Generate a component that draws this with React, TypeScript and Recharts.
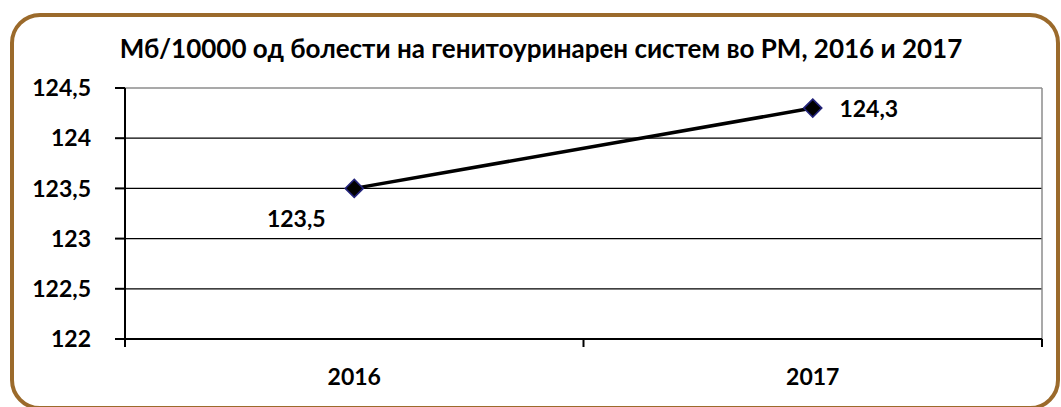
import { CartesianGrid, LabelList, Line, LineChart, ReferenceLine, XAxis, YAxis } from 'recharts'

const years = ['2016', '2017']
const rates = [123.5, 124.3]
const yTicks = [122, 122.5, 123, 123.5, 124, 124.5]
const xBounds = [0, 1, 2]
const labelShift = [{ dx: -58, dy: 30 }, { dx: 56, dy: 0 }]

const data = years.map((year, i) => ({ year, x: i + 0.5, value: rates[i] }))

const font = 'Lato, "DejaVu Sans", sans-serif'
const comma = (v: number) => String(v).replace('.', ',')

function Diamond(props: any) {
  const { cx, cy } = props
  if (cx == null || cy == null) return null
  const r = 9
  return <path d={`M${cx},${cy - r}L${cx + r},${cy}L${cx},${cy + r}L${cx - r},${cy}Z`} fill="#000" stroke="#23237a" strokeWidth={1.6} />
}

function PointLabel(props: any) {
  const { x, y, value, index } = props
  const s = labelShift[index] ?? { dx: 0, dy: 0 }
  return <text x={x + s.dx} y={y + s.dy} textAnchor="middle" dominantBaseline="central" fontFamily={font} fontWeight={700} fontSize={23} fill="#000">{comma(value)}</text>
}

export default function App() {
  return <div style={{ position: 'absolute', left: 0, top: 0, width: 1061, height: 407, overflow: 'hidden', background: '#fff', fontFamily: font }}>
    <div style={{ position: 'absolute', left: 10, top: 13, width: 1050, height: 397, border: '4px solid #9b6a2b', borderRadius: 30, boxSizing: 'border-box' }} />
    <div style={{ position: 'absolute', left: 0, width: 1082, top: 32, textAlign: 'center', fontWeight: 700, fontSize: 26, color: '#000', lineHeight: '32px' }}>Мб/10000 од болести на генитоуринарен систем во РМ, 2016 и 2017</div>
    <LineChart width={1061} height={407} data={data} margin={{ top: 88, right: 19, bottom: 20, left: 0 }} style={{ position: 'absolute', left: 0, top: 0 }}>
      <CartesianGrid vertical={false} horizontalValues={[122.5, 123, 123.5, 124]} stroke="#000" strokeWidth={1.2} />
      <ReferenceLine y={124.5} stroke="#8c8c8c" strokeWidth={1.5} />
      <ReferenceLine x={2} stroke="#8c8c8c" strokeWidth={1.5} />
      <XAxis dataKey="x" type="number" domain={[0, 2]} ticks={xBounds} tickFormatter={() => ''} tickSize={8} height={8} axisLine={{ stroke: '#000', strokeWidth: 2 }} tickLine={{ stroke: '#000', strokeWidth: 2 }} />
      <XAxis xAxisId="labels" dataKey="x" type="number" domain={[0, 2]} ticks={data.map(d => d.x)} tickFormatter={(v: number) => years[Math.floor(v)]} axisLine={false} tickLine={false} tickSize={0} tickMargin={22} height={40} tick={{ fill: '#000', fontFamily: font, fontWeight: 700, fontSize: 23 }} />
      <YAxis type="number" domain={[122, 124.5]} ticks={yTicks} tickFormatter={comma} width={125} tickSize={10} tickMargin={24} axisLine={{ stroke: '#000', strokeWidth: 2 }} tickLine={{ stroke: '#000', strokeWidth: 2 }} tick={{ fill: '#000', fontFamily: font, fontWeight: 700, fontSize: 23 }} interval={0} />
      <Line dataKey="value" stroke="#000" strokeWidth={3.5} dot={<Diamond />} activeDot={false} isAnimationActive={false}>
        <LabelList dataKey="value" content={<PointLabel />} />
      </Line>
    </LineChart>
  </div>
}
